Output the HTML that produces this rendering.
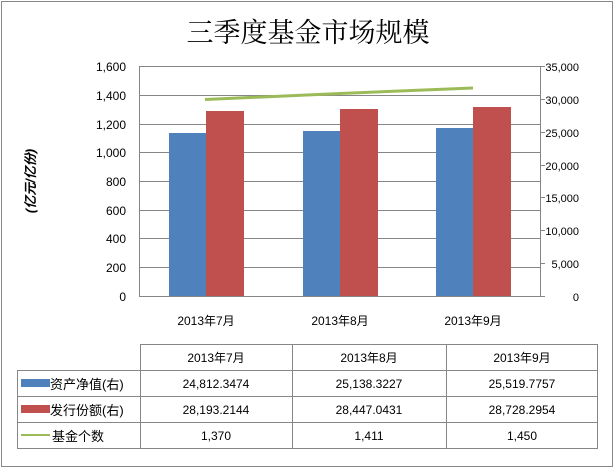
<!DOCTYPE html>
<html><head><meta charset="utf-8"><style>
body{margin:0;background:#fff;}
svg{display:block;font-family:"Liberation Sans","Noto Sans CJK SC",sans-serif;}
</style></head><body>
<svg width="615" height="470" viewBox="0 0 615 470">
<rect x="1.5" y="1.5" width="611" height="465" fill="#fff" stroke="#888"/>
<text x="308" y="42" font-family="'Liberation Serif','Noto Serif CJK SC',serif" font-size="27" text-anchor="middle" fill="#000">三季度基金市场规模</text>
<g stroke="#868686" stroke-width="1">
<line x1="139" y1="66.5" x2="540" y2="66.5"/>
<line x1="139" y1="95.5" x2="540" y2="95.5"/>
<line x1="139" y1="124.5" x2="540" y2="124.5"/>
<line x1="139" y1="152.5" x2="540" y2="152.5"/>
<line x1="139" y1="181.5" x2="540" y2="181.5"/>
<line x1="139" y1="210.5" x2="540" y2="210.5"/>
<line x1="139" y1="238.5" x2="540" y2="238.5"/>
<line x1="139" y1="267.5" x2="540" y2="267.5"/>
<line x1="139" y1="296.5" x2="540" y2="296.5"/>
<line x1="139.5" y1="66" x2="139.5" y2="296"/>
<line x1="540.5" y1="66" x2="540.5" y2="296"/>
<line x1="540" y1="66.5" x2="545" y2="66.5"/>
<line x1="540" y1="99.5" x2="545" y2="99.5"/>
<line x1="540" y1="132.5" x2="545" y2="132.5"/>
<line x1="540" y1="165.5" x2="545" y2="165.5"/>
<line x1="540" y1="197.5" x2="545" y2="197.5"/>
<line x1="540" y1="230.5" x2="545" y2="230.5"/>
<line x1="540" y1="263.5" x2="545" y2="263.5"/>
<line x1="540" y1="296.5" x2="545" y2="296.5"/>
</g>
<g fill="#4f81bd">
<rect x="169" y="133" width="37" height="163"/>
<rect x="303" y="131" width="37" height="165"/>
<rect x="436" y="128" width="37" height="168"/>
</g>
<g fill="#c0504d">
<rect x="206" y="111" width="38" height="185"/>
<rect x="340" y="109" width="38" height="187"/>
<rect x="473" y="107" width="38" height="189"/>
</g>
<polyline points="205,99.5 340,93.5 473,88" fill="none" stroke="#9bbb59" stroke-width="3"/>
<g font-size="12" fill="#000" text-anchor="end">
<text x="126" y="71">1,600</text><text x="126" y="100">1,400</text><text x="126" y="129">1,200</text>
<text x="126" y="157">1,000</text><text x="126" y="186">800</text><text x="126" y="215">600</text>
<text x="126" y="243">400</text><text x="126" y="272">200</text><text x="126" y="301">0</text>
</g>
<g font-size="11" fill="#000" text-anchor="end">
<text x="579" y="71">35,000</text><text x="579" y="104">30,000</text><text x="579" y="137">25,000</text>
<text x="579" y="170">20,000</text><text x="579" y="202">15,000</text><text x="579" y="235">10,000</text>
<text x="579" y="268">5,000</text><text x="579" y="301">0</text>
</g>
<text transform="translate(35,181) rotate(-90)" font-size="13" font-weight="bold" font-style="italic" text-anchor="middle">(亿元/亿份)</text>
<g font-size="12" text-anchor="middle">
<text x="206" y="325">2013年7月</text><text x="340" y="325">2013年8月</text><text x="473" y="325">2013年9月</text>
</g>
<g stroke="#868686" fill="none">
<rect x="140.5" y="344.5" width="457" height="26"/>
<rect x="17.5" y="370.5" width="580" height="78"/>
<line x1="17" y1="396.5" x2="598" y2="396.5"/>
<line x1="17" y1="422.5" x2="598" y2="422.5"/>
<line x1="140.5" y1="344" x2="140.5" y2="449"/>
<line x1="292.5" y1="344" x2="292.5" y2="449"/>
<line x1="446.5" y1="344" x2="446.5" y2="449"/>
</g>
<g font-size="12" text-anchor="middle">
<text x="216" y="362">2013年7月</text><text x="369" y="362">2013年8月</text><text x="522" y="362">2013年9月</text>
<text x="216" y="388">24,812.3474</text><text x="369" y="388">25,138.3227</text><text x="522" y="388">25,519.7757</text>
<text x="216" y="414">28,193.2144</text><text x="369" y="414">28,447.0431</text><text x="522" y="414">28,728.2954</text>
<text x="216" y="440">1,370</text><text x="369" y="440">1,411</text><text x="522" y="440">1,450</text>
</g>
<rect x="21" y="379" width="29" height="8" fill="#4f81bd"/>
<rect x="21" y="405" width="29" height="8" fill="#c0504d"/>
<line x1="21" y1="435" x2="50" y2="435" stroke="#9bbb59" stroke-width="2"/>
<g font-size="13">
<text x="50" y="389">资产净值(右)</text>
<text x="50" y="415">发行份额(右)</text>
<text x="52" y="441">基金个数</text>
</g>
</svg>
</body></html>
